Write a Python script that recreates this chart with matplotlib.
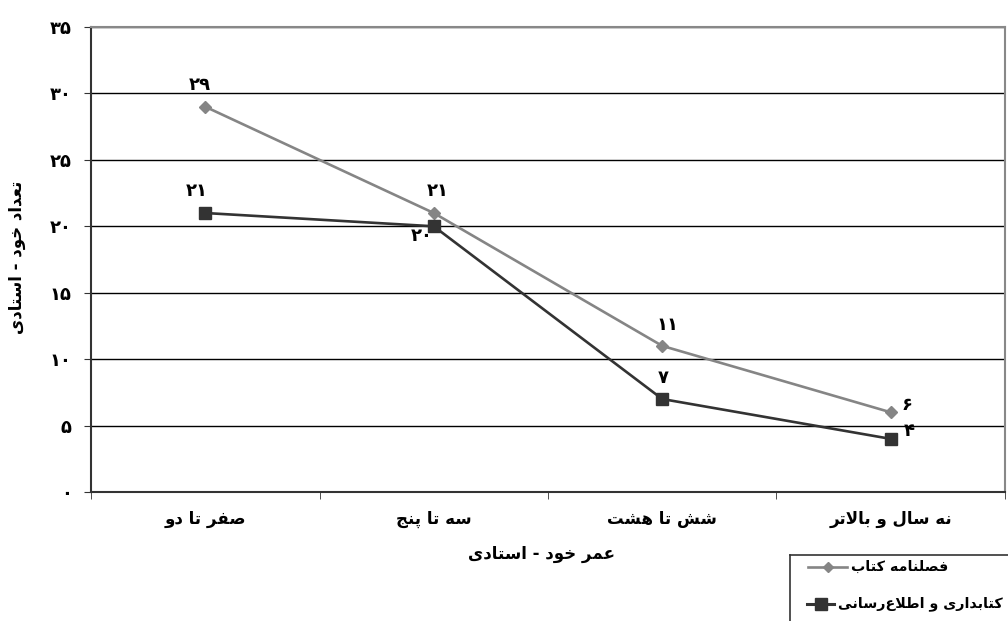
import numpy as np
import matplotlib
matplotlib.use('Agg')
import matplotlib.pyplot as plt

plt.rcParams['font.family'] = ['DejaVu Sans']

# data
categories = ['صفر تا دو', 'سه تا پنج', 'شش تا هشت', 'نه سال و بالاتر']
series_names = ['فصلنامه کتاب', 'کتابداری و اطلاع\u200cرسانی']
ketab = [29, 21, 11, 6]
ketabdari = [21, 20, 7, 4]
y_ticks = [0, 5, 10, 15, 20, 25, 30, 35]
x_title = 'عمر خود - استادی'
y_title = 'تعداد خود - استادی'

# minimal arabic/persian shaping (matplotlib has no complex text layout)
# letter: (isolated, final, initial, medial); None -> letter does not join left
FORMS = {
    'ا': (0xFE8D, 0xFE8E, None, None),
    'ب': (0xFE8F, 0xFE90, 0xFE91, 0xFE92),
    'ت': (0xFE95, 0xFE96, 0xFE97, 0xFE98),
    'ج': (0xFE9D, 0xFE9E, 0xFE9F, 0xFEA0),
    'خ': (0xFEA5, 0xFEA6, 0xFEA7, 0xFEA8),
    'د': (0xFEA9, 0xFEAA, None, None),
    'ر': (0xFEAD, 0xFEAE, None, None),
    'س': (0xFEB1, 0xFEB2, 0xFEB3, 0xFEB4),
    'ش': (0xFEB5, 0xFEB6, 0xFEB7, 0xFEB8),
    'ص': (0xFEB9, 0xFEBA, 0xFEBB, 0xFEBC),
    'ط': (0xFEC1, 0xFEC2, 0xFEC3, 0xFEC4),
    'ع': (0xFEC9, 0xFECA, 0xFECB, 0xFECC),
    'ف': (0xFED1, 0xFED2, 0xFED3, 0xFED4),
    'ل': (0xFEDD, 0xFEDE, 0xFEDF, 0xFEE0),
    'م': (0xFEE1, 0xFEE2, 0xFEE3, 0xFEE4),
    'ن': (0xFEE5, 0xFEE6, 0xFEE7, 0xFEE8),
    'ه': (0xFEE9, 0xFEEA, 0xFEEB, 0xFEEC),
    'و': (0xFEED, 0xFEEE, None, None),
    'پ': (0xFB56, 0xFB57, 0xFB58, 0xFB59),
    'ک': (0xFB8E, 0xFB8F, 0xFB90, 0xFB91),
    'ی': (0xFBFC, 0xFBFD, 0xFBFE, 0xFBFF),
}


def shape(text):
    # lam-alef ligature
    chars = []
    i = 0
    while i < len(text):
        if text[i] == 'ل' and i + 1 < len(text) and text[i + 1] == 'ا':
            chars.append('LA')
            i += 2
        else:
            chars.append(text[i])
            i += 1

    def joins_left(c):
        return c in FORMS and FORMS[c][2] is not None

    out = []
    for k, c in enumerate(chars):
        prev = chars[k - 1] if k > 0 else None
        nxt = chars[k + 1] if k + 1 < len(chars) else None
        after_join = prev is not None and joins_left(prev)
        if c == 'LA':
            out.append(chr(0xFEFC if after_join else 0xFEFB))
            continue
        if c not in FORMS:
            out.append(c)
            continue
        f = FORMS[c]
        before_join = f[2] is not None and nxt is not None and (nxt in FORMS or nxt == 'LA')
        if after_join and before_join:
            out.append(chr(f[3]))
        elif after_join:
            out.append(chr(f[1]))
        elif before_join:
            out.append(chr(f[2]))
        else:
            out.append(chr(f[0]))
    out = [c for c in out if c != '\u200c']
    return ''.join(reversed(out))


def fa_num(n):
    return ''.join(chr(0x06F0 + int(d)) for d in str(n))


fig = plt.figure(figsize=(10.08, 6.21), dpi=100)
ax = fig.add_axes([0.0903, 0.2077, 0.9067, 0.7488])

gray = '#858585'
dark = '#333333'
x = np.arange(len(categories))
ax.plot(x, ketab, color=gray, lw=1.9, marker='D', ms=6, zorder=3)
ax.plot(x, ketabdari, color=dark, lw=1.9, marker='s', ms=9, zorder=4)

ax.set_xlim(-0.5, len(categories) - 0.5)
ax.set_ylim(0, 35)
ax.set_yticks(y_ticks)
ax.set_yticklabels([fa_num(v) for v in y_ticks], fontsize=13, fontweight='bold')
ax.set_xticks(np.arange(len(categories) + 1) - 0.5, minor=True)
ax.set_xticks(x)
ax.set_xticklabels([shape(c) for c in categories], fontsize=12, fontweight='bold')
ax.tick_params(axis='x', which='major', length=0, pad=13)
ax.tick_params(axis='x', which='minor', length=5, direction='out', color=dark)
ax.tick_params(axis='y', length=5, direction='out', pad=9, color=dark)
ax.yaxis.grid(True, color='#000000', lw=1)
ax.set_axisbelow(True)
for s in ['top', 'right']:
    ax.spines[s].set_color('#888888')
    ax.spines[s].set_linewidth(1.5)
for s in ['left', 'bottom']:
    ax.spines[s].set_color(dark)
    ax.spines[s].set_linewidth(1.5)

# value labels (offsets in points)
lbl = dict(fontsize=13, fontweight='bold', color='black', textcoords='offset points',
           ha='center', va='center')
ketab_off = [(-4, 16), (3, 16), (4, 15), (12, 5)]
ketabdari_off = [(-6, 16), (-9, -7), (1, 15), (13, 6)]
for i, v in enumerate(ketab):
    ax.annotate(fa_num(v), (i, v), xytext=ketab_off[i], **lbl)
for i, v in enumerate(ketabdari):
    ax.annotate(fa_num(v), (i, v), xytext=ketabdari_off[i], **lbl)

fig.text(0.537, 0.108, shape(x_title), ha='center', va='center', fontsize=12, fontweight='bold')
fig.text(0.017, 0.585, shape(y_title), ha='center', va='center', rotation=90, fontsize=12, fontweight='bold')

# legend box: sample on the left, text to its right
lax = fig.add_axes([0.784, 0.0, 0.25, 0.1063])
lax.set_xlim(0, 1)
lax.set_ylim(0, 1)
lax.set_xticks([])
lax.set_yticks([])
for s in ['bottom', 'right']:
    lax.spines[s].set_visible(False)
for s in ['top', 'left']:
    lax.spines[s].set_color(dark)
    lax.spines[s].set_linewidth(1.2)
rows = [0.82, 0.26]
lax.plot([0.07, 0.225], [rows[0], rows[0]], color=gray, lw=1.9)
lax.plot([0.15], [rows[0]], color=gray, marker='D', ms=5)
lax.plot([0.065, 0.175], [rows[1], rows[1]], color=dark, lw=2.2)
lax.plot([0.12], [rows[1]], color=dark, marker='s', ms=9)
lax.text(0.24, rows[0], shape(series_names[0]), ha='left', va='center', fontsize=10.3, fontweight='bold')
lax.text(0.188, rows[1], shape(series_names[1]), ha='left', va='center', fontsize=10.3, fontweight='bold')

fig.savefig('out.png', dpi=100)
